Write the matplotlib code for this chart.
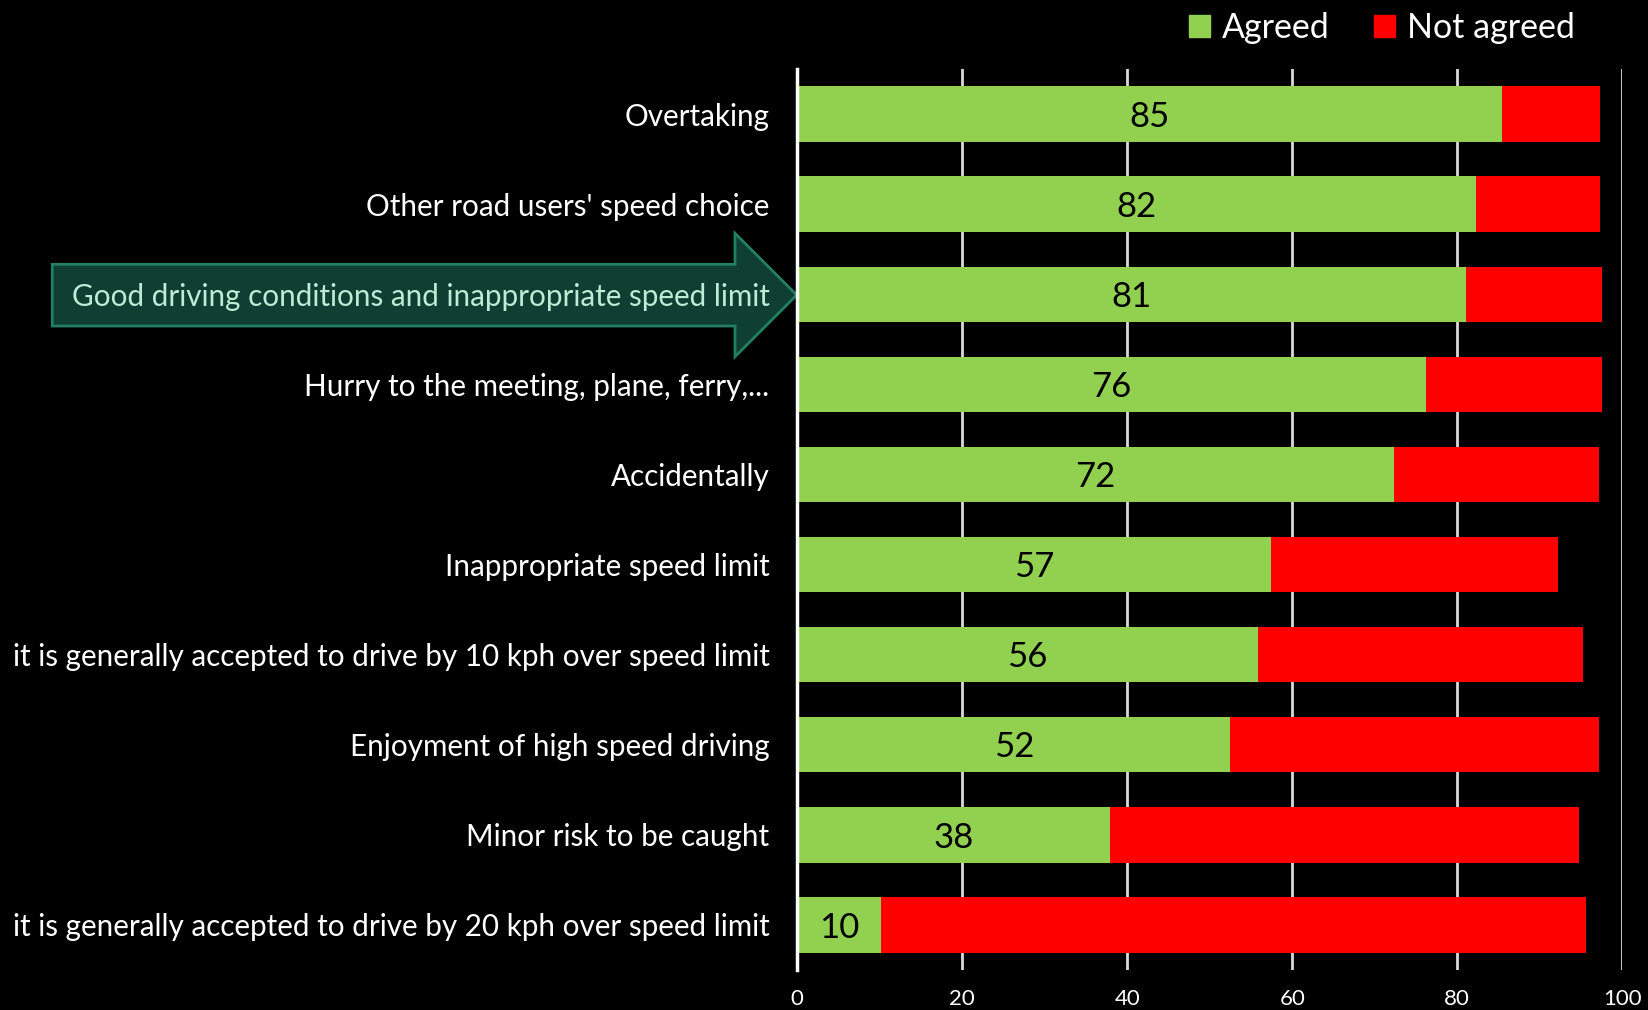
import numpy as np
import matplotlib.pyplot as plt
from matplotlib.patches import Patch, Polygon

categories = [
    'Overtaking',
    "Other road users' speed choice",
    'Good driving conditions and inappropriate speed limit',
    'Hurry to the meeting, plane, ferry,...',
    'Accidentally',
    'Inappropriate speed limit',
    'it is generally accepted to drive by 10 kph over speed limit',
    'Enjoyment of high speed driving',
    'Minor risk to be caught',
    'it is generally accepted to drive by 20 kph over speed limit',
]
agreed = [85.4, 82.3, 81.0, 76.2, 72.3, 57.4, 55.8, 52.5, 37.9, 10.2]
not_agreed = [11.9, 15.0, 16.5, 21.3, 24.9, 34.8, 39.4, 44.7, 56.9, 85.4]
xticks = [0, 20, 40, 60, 80, 100]
highlight = 2

GREEN = '#92D050'
RED = '#FF0000'
FONT = 'Lato'

plt.rcParams['font.family'] = FONT
fig = plt.figure(figsize=(16.48, 10.10), dpi=100, facecolor='black')
ax = fig.add_axes([0.4838, 0.0396, 0.5006, 0.8921], facecolor='black')

y = np.arange(len(categories))
ax.barh(y, agreed, height=0.615, color=GREEN, zorder=3, label='Agreed')
ax.barh(y, not_agreed, left=agreed, height=0.615, color=RED, zorder=3, label='Not agreed')

for yi, v in zip(y, agreed):
    ax.text(v / 2, yi + 0.03, f'{v:.0f}', ha='center', va='center', fontsize=25, color='black', zorder=4)

ax.set_xlim(0, 100)
ax.set_ylim(len(categories) - 0.5, -0.5)
ax.set_xticks(xticks)
ax.set_yticks(y)
ax.set_yticklabels(categories)
ax.tick_params(axis='y', length=0, pad=20, labelsize=21.3, labelcolor='white')
ax.tick_params(axis='x', length=0, pad=14, labelsize=16, labelcolor='white')
ax.xaxis.grid(True, color='#D9D9D9', linewidth=2, zorder=0)
for s in ['top', 'right', 'bottom']:
    ax.spines[s].set_visible(False)
ax.spines['left'].set_color('white')
ax.spines['left'].set_linewidth(2.5)
ax.spines['left'].set_zorder(5)

# highlighted label with arrow shape behind it
lab = ax.get_yticklabels()[highlight]
lab.set_color('#BDEBD3')
W, H = 1648, 1010
pts = [(52.3, 264.3), (735, 264.3), (735, 233.3), (796.7, 295), (735, 356.7), (735, 326), (52.3, 326)]
arrow = Polygon([(px / W, 1 - py / H) for px, py in pts], closed=True, transform=fig.transFigure,
                facecolor='#0F3F33', edgecolor='#20805F', linewidth=2, zorder=-1)
fig.patches.append(arrow)

handles = [Patch(color=GREEN, label='Agreed'), Patch(color=RED, label='Not agreed')]
fig.legend(handles=handles, loc='upper right', bbox_to_anchor=(0.974, 1.018), ncol=2, frameon=False,
           fontsize=24.5, labelcolor='white', handlelength=0.62, handleheight=0.62, handletextpad=0.35,
           columnspacing=1.3)

fig.savefig('out.png', dpi=100, facecolor='black')
